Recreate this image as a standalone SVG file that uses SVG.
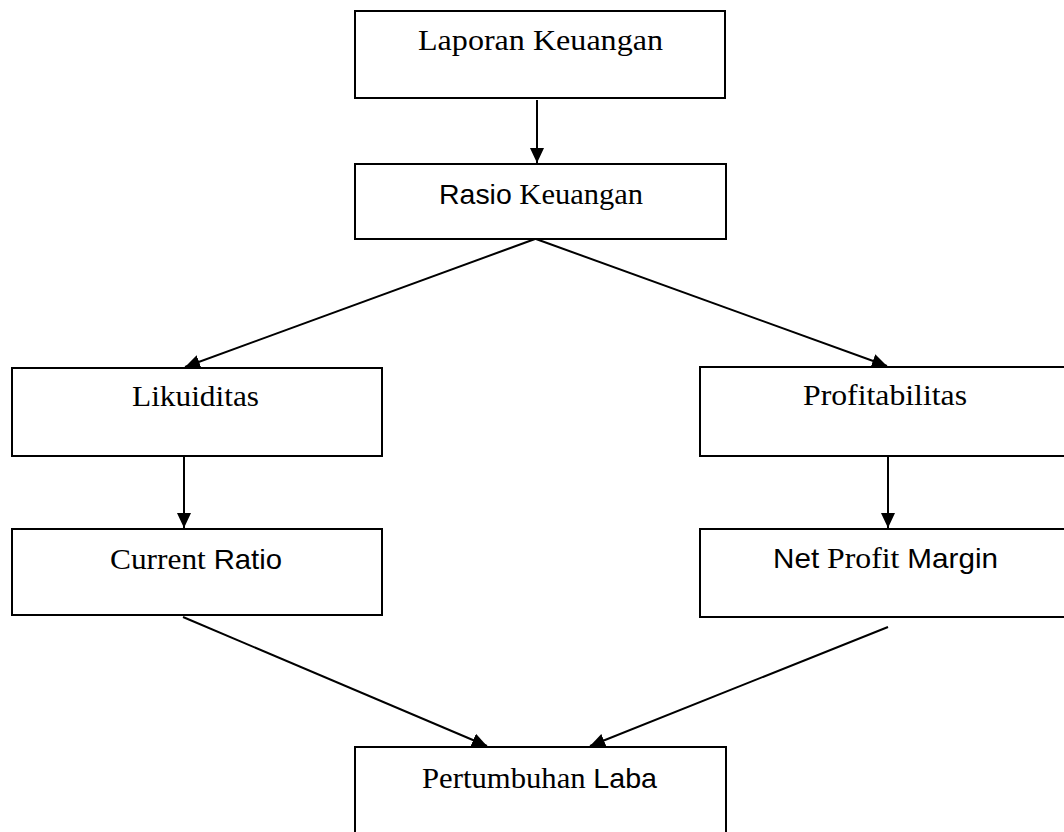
<svg xmlns="http://www.w3.org/2000/svg" width="1064" height="832" viewBox="0 0 1064 832">
<style>
.box{fill:#fff;stroke:#000;stroke-width:2}
.t{font-family:"Liberation Serif","Times New Roman",serif;font-size:30px;fill:#000}
.s{font-family:"Liberation Sans",Arial,sans-serif;font-size:28px}
.c{stroke:#000;stroke-width:2;fill:none;marker-end:url(#ah)}
</style>
<defs>
<marker id="ah" markerUnits="userSpaceOnUse" markerWidth="16" markerHeight="16" refX="15" refY="7" orient="auto">
<path d="M0,0 L15,7 L0,14 z" fill="#000"/>
</marker>
</defs>
<rect width="1064" height="832" fill="#fff"/>
<g id="laporan"><rect class="box" x="355" y="11" width="370" height="87"/>
<text class="t" x="418" y="50" textLength="245" lengthAdjust="spacingAndGlyphs">Laporan Keuangan</text></g>
<g id="rasio"><rect class="box" x="355" y="164" width="371" height="75"/>
<text class="t" x="439" y="204" textLength="204" lengthAdjust="spacingAndGlyphs"><tspan class="s">Rasio</tspan> Keuangan</text></g>
<g id="likuiditas"><rect class="box" x="12" y="368" width="370" height="88"/>
<text class="t" x="132" y="406" textLength="127" lengthAdjust="spacingAndGlyphs">Likuiditas</text></g>
<g id="profitabilitas"><rect class="box" x="700" y="367" width="400" height="89"/>
<text class="t" x="803" y="405" textLength="164" lengthAdjust="spacingAndGlyphs">Profitabilitas</text></g>
<g id="current"><rect class="box" x="12" y="529" width="370" height="86"/>
<text class="t" x="110" y="569" textLength="172" lengthAdjust="spacingAndGlyphs">Current <tspan class="s">Ratio</tspan></text></g>
<g id="npm"><rect class="box" x="700" y="529" width="400" height="88"/>
<text class="t" x="773" y="568" textLength="225" lengthAdjust="spacingAndGlyphs"><tspan class="s">Net</tspan> Profit <tspan class="s">Margin</tspan></text></g>
<g id="pertumbuhan"><rect class="box" x="355" y="747" width="371" height="120"/>
<text class="t" x="422" y="788" textLength="235" lengthAdjust="spacingAndGlyphs">Pertumbuhan <tspan class="s">Laba</tspan></text></g>
<g id="connectors">
<line class="c" x1="537" y1="100" x2="537" y2="163"/>
<line class="c" x1="535" y1="239" x2="185" y2="367"/>
<line class="c" x1="536" y1="239" x2="887" y2="366"/>
<line class="c" x1="184" y1="456" x2="184" y2="528"/>
<line class="c" x1="888" y1="456" x2="888" y2="528"/>
<line class="c" x1="183" y1="617" x2="487" y2="746"/>
<line class="c" x1="888" y1="627" x2="590" y2="746"/>
</g>
</svg>
